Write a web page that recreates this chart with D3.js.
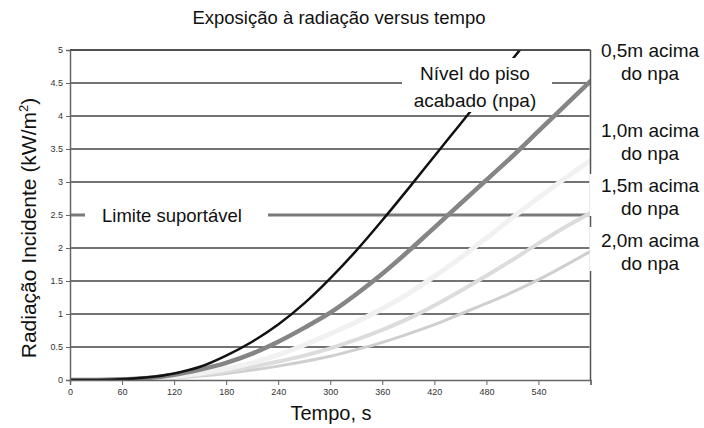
<!DOCTYPE html>
<html><head><meta charset="utf-8">
<script src="https://cdn.jsdelivr.net/npm/d3@7"></script>
<style>
html,body{margin:0;padding:0;background:#fff;}
svg{display:block;font-family:"Liberation Sans",Arial,sans-serif;}
</style></head>
<body><svg id="c" width="704" height="428"></svg>
<script>
const times = [0,30,60,90,120,150,180,210,240,270,300,330,360,390,420,450,480,510,540,570,600];
const npa  = [0,0,0.01,0.04,0.1,0.2,0.37,0.58,0.84,1.16,1.54,1.96,2.42,2.9,3.39,3.88,4.37,4.86,5.35];
const m05  = [0,0,0.01,0.03,0.08,0.16,0.26,0.4,0.58,0.79,1.02,1.3,1.61,1.95,2.31,2.67,3.03,3.39,3.77,4.15,4.53];
const m10  = [0,0,0.01,0.02,0.05,0.1,0.17,0.26,0.38,0.53,0.7,0.88,1.08,1.31,1.57,1.85,2.15,2.46,2.76,3.05,3.33];
const m15  = [0,0,0.01,0.02,0.04,0.08,0.13,0.2,0.28,0.37,0.48,0.61,0.76,0.93,1.13,1.35,1.58,1.82,2.07,2.31,2.53];
const m20  = [0,0,0.01,0.02,0.03,0.06,0.1,0.15,0.21,0.28,0.36,0.46,0.57,0.7,0.84,1.0,1.16,1.33,1.52,1.73,1.95];
const limite = 2.5;
const xTicks = [0,60,120,180,240,300,360,420,480,540,600];
const yTicks = [0,0.5,1,1.5,2,2.5,3,3.5,4,4.5,5];
const title = "Exposição à radiação versus tempo";
const xTitle = "Tempo, s";
const yTitle = "Radiação Incidente (kW/m";
const limiteLabel = "Limite suportável";
const npaLabel = ["Nível do piso", "acabado (npa)"];
const rightLabels = [["0,5m acima","do npa"],["1,0m acima","do npa"],["1,5m acima","do npa"],["2,0m acima","do npa"]];

const svg = d3.select("#c");
const x = d3.scaleLinear().domain([0,600]).range([70,590.5]);
const y = d3.scaleLinear().domain([0,5]).range([380,50]);

svg.append("defs").append("clipPath").attr("id","clip")
  .append("rect").attr("x",70).attr("y",50).attr("width",520.5).attr("height",330);

// gridlines
svg.append("g").selectAll("line").data(yTicks.filter(d=>d>0 && d!==limite)).join("line")
  .attr("x1",x(0)).attr("x2",x(600)-1).attr("y1",d=>y(d)).attr("y2",d=>y(d))
  .attr("stroke","#454545").attr("stroke-width",1.3);

// limit line
svg.append("line").attr("x1",x(0)).attr("x2",x(600)-1).attr("y1",y(limite)).attr("y2",y(limite))
  .attr("stroke","#7a7a7a").attr("stroke-width",3.2);

// curves
const line = d3.line().x((d,i)=>x(times[i])).y(d=>y(d)).curve(d3.curveMonotoneX);
const series = [
  {v:m20, c:"#cfcfcf", w:3},
  {v:m15, c:"#dcdcdc", w:4},
  {v:m10, c:"#f1f1f1", w:5},
  {v:m05, c:"#858585", w:4.5},
  {v:npa, c:"#111111", w:2.5}
];
const gc = svg.append("g").attr("clip-path","url(#clip)");
series.forEach(s=>{
  gc.append("path").datum(s.v).attr("d",line).attr("fill","none")
    .attr("stroke",s.c).attr("stroke-width",s.w).attr("stroke-linecap","round");
});

// label boxes
svg.append("rect").attr("x",85).attr("y",205).attr("width",183).attr("height",21).attr("fill","#fff");
svg.append("text").attr("x",102).attr("y",222).attr("font-size",18.5).attr("fill","#111").text(limiteLabel);

svg.append("rect").attr("x",402).attr("y",58).attr("width",150).attr("height",54).attr("fill","#fff");
npaLabel.forEach((t,i)=>{
  svg.append("text").attr("x",475).attr("y",80+i*27).attr("text-anchor","middle")
    .attr("font-size",19).attr("fill","#111").text(t);
});

// axes
const yAxis = svg.append("g").attr("transform","translate(70,0)")
  .call(d3.axisLeft(y).tickValues(yTicks).tickSize(4).tickPadding(3).tickFormat(d=>String(d)));
yAxis.select(".domain").attr("stroke","#666").attr("stroke-width",1.5);
yAxis.selectAll(".tick line").attr("stroke","#666");
yAxis.selectAll("text").attr("font-size",9).attr("fill","#333").attr("font-family","Liberation Sans,Arial,sans-serif");

const xAxis = svg.append("g").attr("transform","translate(0,380)")
  .call(d3.axisBottom(x).tickValues(xTicks).tickSize(5).tickPadding(4).tickFormat(d=>d===600?"":String(d)));
xAxis.select(".domain").attr("stroke","#666").attr("stroke-width",1.5);
xAxis.selectAll(".tick line").attr("stroke","#666");
xAxis.selectAll("text").attr("font-size",9).attr("fill","#333").attr("font-family","Liberation Sans,Arial,sans-serif");

// top and right border
svg.append("line").attr("x1",70).attr("x2",x(600)).attr("y1",50).attr("y2",50).attr("stroke","#454545").attr("stroke-width",1.3);
svg.append("line").attr("x1",x(600)).attr("x2",x(600)).attr("y1",50).attr("y2",380).attr("stroke","#555").attr("stroke-width",1.5);

// right labels
const rl = [[56,79],[136,159],[191,214],[246,269]];
svg.append("rect").attr("x",589.5).attr("y",174).attr("width",114).attr("height",42).attr("fill","#fff");
svg.append("rect").attr("x",589.5).attr("y",227).attr("width",114).attr("height",44).attr("fill","#fff");
rightLabels.forEach((lab,i)=>{
  lab.forEach((t,j)=>{
    svg.append("text").attr("x",650).attr("y",rl[i][j]+1).attr("text-anchor","middle")
      .attr("font-size",19).attr("fill","#111").text(t);
  });
});

// titles
svg.append("text").attr("x",339).attr("y",24).attr("text-anchor","middle")
  .attr("font-size",18.5).attr("fill","#111").text(title);
svg.append("text").attr("x",331).attr("y",420).attr("text-anchor","middle")
  .attr("font-size",20).attr("fill","#111").text(xTitle);
const yt = svg.append("text").attr("transform","translate(36,228) rotate(-90)").attr("text-anchor","middle")
  .attr("font-size",21).attr("fill","#111");
yt.append("tspan").text(yTitle);
yt.append("tspan").attr("font-size",13).attr("dy",-8).text("2");
yt.append("tspan").attr("dy",8).text(")");
</script></body></html>
